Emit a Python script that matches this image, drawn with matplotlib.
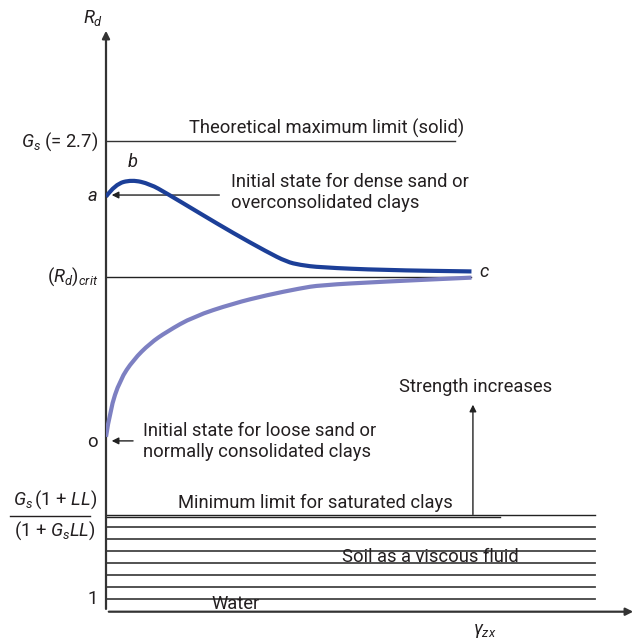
import matplotlib.pyplot as plt
from matplotlib.path import Path
from matplotlib.patches import PathPatch

plt.rcParams['font.family'] = ['Roboto', 'DejaVu Sans']
plt.rcParams['mathtext.fontset'] = 'custom'
plt.rcParams['mathtext.rm'] = 'Roboto'
plt.rcParams['mathtext.it'] = 'Roboto:italic'
plt.rcParams['mathtext.fallback'] = 'cm'

# dense sand / overconsolidated clay path (a -> b -> c)
dense_x = [0.0, 0.025, 0.071, 0.121, 0.167, 0.258, 0.349, 0.442, 0.496, 0.533, 0.588, 0.761, 1.004]
dense_y = [2.494, 2.540, 2.557, 2.541, 2.506, 2.432, 2.359, 2.289, 2.252, 2.240, 2.231, 2.221, 2.216]

# loose sand / normally consolidated clay path (o -> c)
loose_x = [0.0, 0.011, 0.0385, 0.075, 0.121, 0.167, 0.240, 0.350, 0.442, 0.533, 0.588, 0.761, 1.004]
loose_y = [1.601, 1.701, 1.813, 1.887, 1.949, 1.992, 2.048, 2.097, 2.128, 2.153, 2.165, 2.178, 2.193]

Gs = 2.7
Rd_crit = 2.197
Rd_min = [1.310, 1.302]
fluid_levels = [1.265, 1.220, 1.177, 1.133, 1.087, 1.044, 1.0]

txt = '#231f20'
dark_blue = '#1c3f98'
light_blue = '#7d80c2'


def smooth_path(xs, ys):
    # quadratic bezier through midpoints, so the read points act as control points
    verts = [(xs[0], ys[0])]
    codes = [Path.MOVETO]
    for i in range(1, len(xs) - 1):
        mx = (xs[i] + xs[i + 1]) / 2
        my = (ys[i] + ys[i + 1]) / 2
        verts += [(xs[i], ys[i]), (mx, my)]
        codes += [Path.CURVE3, Path.CURVE3]
    verts.append((xs[-1], ys[-1]))
    codes.append(Path.LINETO)
    return Path(verts, codes)


fig = plt.figure(figsize=(6.38, 6.39), dpi=100)
ax = fig.add_axes([106 / 638, 27.3 / 639, 530 / 638, 583.7 / 639])
ax.set_xlim(0, 1.456)
ax.set_ylim(0.951, 3.121)
ax.axis('off')

# axes with arrow heads
ax.annotate('', xy=(0, 1.0), xytext=(0, 0), xycoords='axes fraction',
            arrowprops=dict(arrowstyle='-|>', lw=1.6, color='#333333', mutation_scale=11))
ax.annotate('', xy=(1.0, 0), xytext=(0, 0), xycoords='axes fraction',
            arrowprops=dict(arrowstyle='-|>', lw=1.6, color='#333333', mutation_scale=11))

# reference lines
ax.plot([0, 0.959], [Gs, Gs], color='#333333', lw=1.0)
ax.plot([0, 1.004], [Rd_crit, Rd_crit], color='#222222', lw=1.0)
ax.plot([0, 1.343], [Rd_min[0], Rd_min[0]], color='#222222', lw=1.0)
ax.plot([0, 1.082], [Rd_min[1], Rd_min[1]], color='#222222', lw=1.0)
for lv in fluid_levels:
    ax.plot([0, 1.343], [lv, lv], color='#444444', lw=1.3)

# stress paths
ax.add_patch(PathPatch(smooth_path(loose_x, loose_y), fill=False, edgecolor=light_blue,
                       lw=3.0, capstyle='butt', zorder=3))
ax.add_patch(PathPatch(smooth_path(dense_x, dense_y), fill=False, edgecolor=dark_blue,
                       lw=3.0, capstyle='butt', zorder=4))

fs = 13.2
# y-axis labels
ax.text(-0.036, 3.158, r'$R_d$', ha='center', va='center', fontsize=fs, color=txt, clip_on=False)
ax.text(-0.022, Gs, r'$G_s$ (= 2.7)', ha='right', va='center', fontsize=fs, color=txt, clip_on=False)
ax.text(-0.022, 2.498, r'$a$', ha='right', va='center', fontsize=fs, color=txt, clip_on=False)
ax.text(-0.022, Rd_crit, r'$(R_d)_{crit}$', ha='right', va='center', fontsize=fs, color=txt, clip_on=False)
ax.text(-0.022, 1.582, 'o', ha='right', va='center', fontsize=fs, color=txt, clip_on=False)
ax.text(-0.140, 1.366, r'$G_s\,$(1 + $LL$)', ha='center', va='center', fontsize=fs, color=txt, clip_on=False)
ax.text(-0.140, 1.251, r'(1 + $G_sLL$)', ha='center', va='center', fontsize=fs, color=txt, clip_on=False)
ax.plot([-0.264, -0.044], [1.307, 1.307], color=txt, lw=1.0, clip_on=False)
ax.text(-0.022, 1.0, '1', ha='right', va='center', fontsize=fs, color=txt, clip_on=False)
ax.text(1.041, 0.879, r'$\gamma_{zx}$', ha='center', va='center', fontsize=fs, color=txt, clip_on=False)

# point labels
ax.text(0.074, 2.623, r'$b$', ha='center', va='center', fontsize=fs, color=txt)
ax.text(1.025, 2.214, r'$c$', ha='left', va='center', fontsize=fs, color=txt)

# annotations
ax.text(0.228, 2.749, 'Theoretical maximum limit (solid)', ha='left', va='center', fontsize=fs, color=txt)
ax.text(0.343, 2.509, 'Initial state for dense sand or\noverconsolidated clays', ha='left', va='center',
        fontsize=fs, color=txt, linespacing=1.2)
ax.annotate('', xy=(0.008, 2.500), xytext=(0.319, 2.500),
            arrowprops=dict(arrowstyle='-|>', lw=1.0, color='#222222', mutation_scale=10))
ax.text(0.102, 1.584, 'Initial state for loose sand or\nnormally consolidated clays', ha='left', va='center',
        fontsize=fs, color=txt, linespacing=1.2)
ax.annotate('', xy=(0.008, 1.586), xytext=(0.082, 1.586),
            arrowprops=dict(arrowstyle='-|>', lw=1.0, color='#222222', mutation_scale=10))
ax.text(1.016, 1.786, 'Strength increases', ha='center', va='center', fontsize=fs, color=txt)
ax.annotate('', xy=(1.008, 1.731), xytext=(1.008, 1.302),
            arrowprops=dict(arrowstyle='-|>', lw=1.0, color='#222222', mutation_scale=10))
ax.text(0.198, 1.355, 'Minimum limit for saturated clays', ha='left', va='center', fontsize=fs, color=txt)
ax.text(0.890, 1.154, 'Soil as a viscous fluid', ha='center', va='center', fontsize=fs, color=txt)
ax.text(0.357, 0.980, 'Water', ha='center', va='center', fontsize=fs, color=txt)

fig.savefig('out.png', dpi=100)
